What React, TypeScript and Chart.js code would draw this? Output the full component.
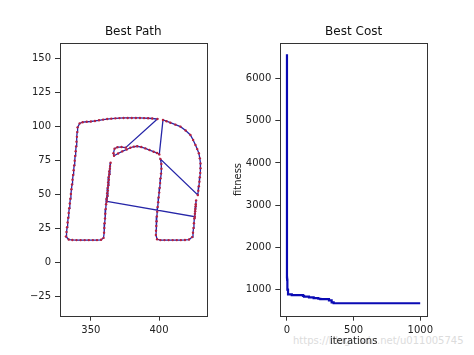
import React, { useEffect, useRef } from "react";
import { Chart, registerables } from "chart.js";

Chart.register(...registerables);

// ---- Best Path (tour order, closed back to the first point) ----
const pathX = [
  361.8, 362.2, 362.5, 362.8, 363.2, 363.6, 364.0, 364.5,
  364.1, 363.5, 363.1, 362.7, 362.4, 362.0, 361.5, 361.2,
  360.9, 360.6, 360.4, 360.1, 359.9, 359.7, 359.3,
  357.5, 354.5, 351.5, 348.5, 345.5, 342.5, 339.5, 336.5, 333.8, 331.8,
  332.2, 332.6, 333.0, 333.4, 333.8, 334.2, 334.6, 335.0, 335.4, 335.8, 336.2, 336.6,
  337.0, 337.4, 337.8, 338.2, 338.5, 338.9, 339.2, 339.5, 339.8, 340.0, 340.3,
  341.8, 344.0, 347.0, 350.0, 353.0, 356.0, 359.0, 362.0, 365.0, 368.0, 371.0,
  374.0, 377.0, 380.0, 383.0, 386.0, 389.0, 392.0, 395.0, 398.8,
  375.5, 372.5, 369.5, 367.4, 366.6,
  367.0, 370.0, 373.0, 376.3, 379.0, 381.5, 384.0, 387.0, 390.0, 393.0, 396.0, 398.5, 400.2,
  402.9, 405.5, 408.3, 412.0, 415.7, 419.5, 423.0, 425.0, 426.7, 428.0, 429.2, 429.9,
  430.4, 430.4, 430.2, 429.9, 429.6, 429.2, 428.8, 428.4,
  401.0, 401.7, 401.8, 401.5, 401.1, 400.8, 400.5, 400.1, 399.7, 399.4, 399.0, 398.7,
  398.4, 398.2, 398.0, 397.8, 397.7, 398.6,
  401.0, 404.0, 407.0, 410.0, 413.0, 416.0, 419.0, 422.0, 424.3,
  424.9, 425.3, 425.6, 425.9, 426.3, 426.6, 426.9, 427.2,
  426.9, 426.5, 426.2,
];
const pathY = [
  45.0, 49.0, 53.0, 57.0, 61.0, 65.0, 69.0, 73.5,
  71.0, 67.0, 63.0, 59.0, 55.0, 51.0, 47.0, 43.0,
  39.5, 36.0, 32.5, 29.0, 25.5, 22.0, 18.2,
  16.8, 16.6, 16.6, 16.6, 16.6, 16.6, 16.6, 16.7, 17.0, 19.2,
  22.5, 26.0, 29.5, 33.0, 36.5, 40.0, 43.5, 47.0, 50.5, 54.0, 57.5, 61.0,
  64.5, 68.0, 71.5, 75.0, 78.5, 82.0, 85.5, 89.0, 92.5, 96.0, 99.5,
  102.4, 103.3, 103.6, 103.8, 104.2, 104.7, 105.2, 105.6, 105.9, 106.1, 106.3,
  106.4, 106.4, 106.4, 106.4, 106.4, 106.3, 106.2, 106.0, 105.6,
  84.6, 85.0, 84.9, 83.8, 80.5,
  78.6, 80.3, 81.8, 83.2, 84.5, 85.3, 85.6, 85.0, 84.0, 82.8, 81.6, 80.6, 79.6,
  104.9, 104.0, 102.9, 101.5, 100.0, 97.2, 93.9, 90.2, 86.5, 83.5, 80.4, 76.7,
  73.0, 69.5, 66.0, 62.8, 59.5, 56.2, 52.9, 49.8,
  76.2, 72.5, 69.0, 65.5, 62.0, 58.5, 55.0, 51.5, 48.0, 44.5, 41.0, 37.5,
  34.0, 30.5, 27.0, 23.5, 20.3, 17.2,
  16.6, 16.6, 16.6, 16.6, 16.6, 16.6, 16.7, 17.0, 18.8,
  22.0, 25.5, 29.0, 32.5, 36.0, 39.5, 43.0, 45.8,
  41.5, 37.8, 33.8,
];
const pathXTicks = [350, 400];
const pathYTicks = [-25, 0, 25, 50, 75, 100, 125, 150];

// ---- Best Cost (iteration where the best fitness changes) ----
const costIter = [0, 1, 3, 5, 8, 36, 120, 128, 165, 200, 235, 250, 315, 335, 350, 940, 999];
const costVal = [6580, 1280, 1230, 1000, 985, 880, 860, 845, 825, 810, 790, 775, 765, 735, 690, 668, 668];
const costXTicks = [0, 500, 1000];
const costYTicks = [1000, 2000, 3000, 4000, 5000, 6000];

const W = 474;
const H = 355;
const FONT = "'DejaVu Sans', sans-serif";
const INK = "#222";

const framePlugin = {
  id: "frame",
  afterDraw(chart: any) {
    const { ctx, chartArea: a } = chart;
    ctx.save();
    ctx.strokeStyle = "#333";
    ctx.lineWidth = 1;
    const l = Math.round(a.left) + 0.5;
    const t = Math.round(a.top) + 0.5;
    const r = Math.round(a.right) + 0.5;
    const b = Math.round(a.bottom) + 0.5;
    ctx.strokeRect(l, t, r - l, b - t);
    ctx.restore();
  },
};

function makeAxis(min: number, max: number, tickValues: number[], isY: boolean, size: number, title?: any) {
  return {
    type: "linear",
    min,
    max,
    afterBuildTicks: (s: any) => {
      s.ticks = tickValues.map((v) => ({ value: v }));
    },
    afterFit: (s: any) => {
      if (isY) s.width = size;
      else s.height = size;
    },
    ticks: {
      color: INK,
      font: { family: FONT, size: 10 },
      padding: 4,
      autoSkip: false,
      maxRotation: 0,
      minRotation: 0,
      callback: (v: any) => String(v).replace("-", "\u2212"),
    },
    grid: {
      drawOnChartArea: false,
      drawTicks: true,
      tickLength: 5,
      tickColor: "#333",
      tickWidth: 1,
    },
    border: { display: false },
    title: title || { display: false },
  };
}

function titleOpts(text: string) {
  return {
    display: true,
    text,
    fullSize: false,
    color: "#111",
    font: { family: FONT, size: 12, weight: "normal" as const, lineHeight: 1.2 },
    padding: { top: 24.5, bottom: 4.4 },
  };
}

export default function App() {
  const leftRef = useRef<HTMLCanvasElement>(null);
  const rightRef = useRef<HTMLCanvasElement>(null);

  useEffect(() => {
    const loop = pathX.map((x, i) => ({ x, y: pathY[i] }));
    const pts = loop.slice();
    loop.push({ x: pathX[0], y: pathY[0] });

    const left = new Chart(leftRef.current as HTMLCanvasElement, {
      type: "scatter",
      data: {
        datasets: [
          {
            data: loop,
            showLine: true,
            borderColor: "#2626a8",
            borderWidth: 1.3,
            pointRadius: 0,
            order: 2,
          },
          {
            data: pts,
            showLine: false,
            pointRadius: 1.2,
            pointBackgroundColor: "#b8203e",
            pointBorderWidth: 0,
            order: 1,
          },
        ],
      },
      options: {
        responsive: false,
        animation: false,
        events: [],
        layout: { padding: { left: 0, right: 267.5, top: 0, bottom: 0 } },
        plugins: {
          legend: { display: false },
          tooltip: { enabled: false },
          title: titleOpts("Best Path"),
        },
        scales: {
          x: makeAxis(327.4, 434.8, pathXTicks, false, 39.3),
          y: makeAxis(-39, 161.3, pathYTicks, true, 60),
        },
      } as any,
      plugins: [framePlugin],
    });

    const cost = costIter.map((x, i) => ({ x, y: costVal[i] }));
    const right = new Chart(rightRef.current as HTMLCanvasElement, {
      type: "scatter",
      data: {
        datasets: [
          {
            data: cost,
            showLine: true,
            stepped: "after",
            borderColor: "#0a0ab4",
            borderWidth: 2.2,
            pointRadius: 0,
          },
        ],
      },
      options: {
        responsive: false,
        animation: false,
        events: [],
        layout: { padding: { left: 232, right: 47, top: 0, bottom: 0 } },
        plugins: {
          legend: { display: false },
          tooltip: { enabled: false },
          title: titleOpts("Best Cost"),
        },
        scales: {
          x: makeAxis(-50, 1050, costXTicks, false, 39.3, {
            display: true,
            text: "iterations",
            color: INK,
            font: { family: FONT, size: 10, lineHeight: 1.2 },
            padding: { top: 0, bottom: 8 },
          }),
          y: makeAxis(373, 6840, costYTicks, true, 48.3, {
            display: true,
            text: "fitness",
            color: INK,
            font: { family: FONT, size: 10, lineHeight: 1.2 },
            padding: { top: 0, bottom: 0 },
          }),
        },
      } as any,
      plugins: [framePlugin],
    });

    return () => {
      left.destroy();
      right.destroy();
    };
  }, []);

  const layer: React.CSSProperties = { position: "absolute", left: 0, top: 0 };
  return (
    <div style={{ position: "absolute", left: 0, top: 0, width: W, height: H, background: "#fff", overflow: "hidden" }}>
      <div
        style={{
          position: "absolute",
          left: 293,
          top: 335,
          fontFamily: FONT,
          fontSize: 10,
          color: "#dcdcdc",
          whiteSpace: "nowrap",
        }}
      >
        https://blog.csdn.net/u011005745
      </div>
      <canvas ref={leftRef} width={W} height={H} style={layer} />
      <canvas ref={rightRef} width={W} height={H} style={layer} />
    </div>
  );
}
